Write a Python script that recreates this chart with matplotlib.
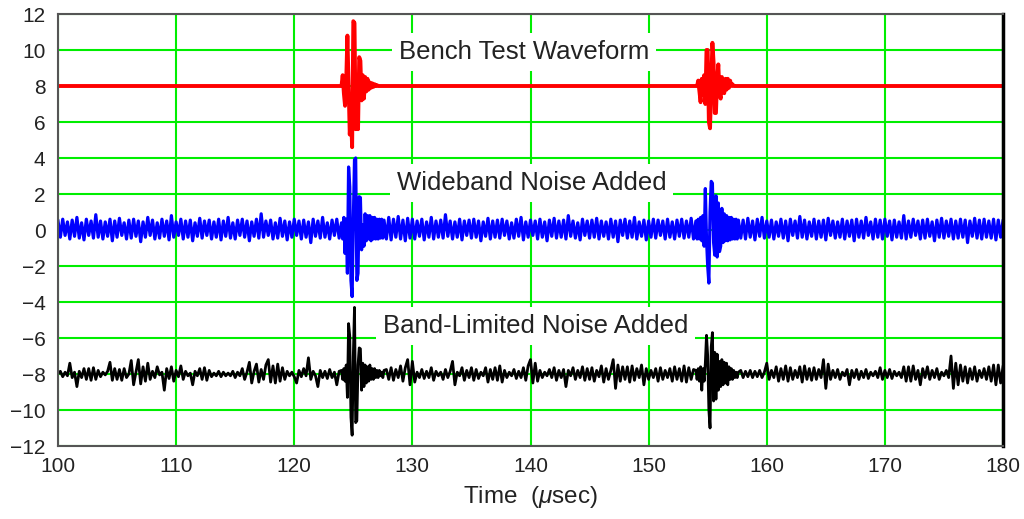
import numpy as np
import matplotlib.pyplot as plt

plt.rcParams['font.family'] = ['Liberation Sans', 'DejaVu Sans']
plt.rcParams['mathtext.fontset'] = 'custom'
plt.rcParams['mathtext.it'] = 'Liberation Sans:italic'

# time axis (usec): noise sampled every 0.2 us, bursts every 0.1 us
T_START, T_STOP = 100.0, 180.0
NOISE_STEP = 0.2
BURST_STEP = 0.1
burst_starts = [124.0, 154.0]

red_level = 8.0

# bench test waveform, two echoes
red_burst1 = [8.0, 8.6, 7.6, 6.9, 8.3, 10.8, 8.0, 5.3, 6.5, 4.6,
              11.6, 11.5, 5.6, 8.2, 5.6, 9.6, 9.4, 7.2, 8.6, 7.3,
              8.5, 7.7, 8.4, 7.8, 8.2, 7.9, 8.15, 7.95, 8.1, 8.0,
              8.05, 8.0, 8.0, 8.0, 8.0, 8.0, 8.0]
red_burst2 = [8.0, 8.0, 8.3, 7.7, 7.1, 8.4, 7.5, 8.6, 7.0, 10.0,
              10.0, 6.0, 5.65, 8.2, 10.4, 9.3, 6.5, 6.5, 8.4, 9.2,
              7.6, 7.3, 8.5, 8.0, 7.6, 8.4, 7.8, 8.4, 7.9, 8.3,
              8.0, 8.1, 8.0, 8.0, 8.0, 8.0, 8.0]

# wideband noise added
blue_burst1 = [0.4, -0.5, 0.7, -1.3, 0.6, -2.4, 3.5, 2.4, -2.8, -3.7,
               0.5, 3.9, 4.0, -2.8, -2.4, 1.85, 1.8, -1.1, 0.3, -0.9,
               0.9, -0.6, 0.8, -0.5, 0.8, -0.6, 0.7, -0.5, 0.7, -0.5,
               0.6, -0.5, 0.6, -0.45, 0.6, -0.45, 0.55]
blue_burst2 = [0.5, -0.5, 0.6, -0.5, 0.7, -0.6, 0.8, -0.9, 2.3, -0.5,
               -2.0, -2.95, 1.0, 2.7, 2.6, -0.7, -1.4, 1.9, -1.5, 1.5,
               -1.2, -0.9, 1.2, -0.7, 0.9, -0.6, 0.8, -0.6, 0.7, -0.55,
               0.7, -0.5, 0.6, -0.5, 0.6, -0.5, 0.55]
blue_noise = [
    0.5, -0.4, 0.6, -0.3, 0.45, -0.5, 0.55, -0.35, 0.7, -0.45,
    0.4, -0.55, 0.6, -0.3, 0.5, -0.45, 0.85, -0.4, 0.5, -0.5,
    0.45, -0.35, 0.6, -0.6, 0.5, -0.4, 0.65, -0.3, 0.4, -0.5,
    0.55, -0.45, 0.6, -0.35, 0.5, -0.65, 0.45, -0.4, 0.7, -0.3,
    0.55, -0.5, 0.4, -0.45, 0.6, -0.35, 0.5, -0.55, 0.8, -0.4,
    0.45, -0.3, 0.6, -0.5, 0.5, -0.4, 0.55, -0.6, 0.4, -0.35,
    0.65, -0.45, 0.5, -0.3, 0.55, -0.5, 0.45, -0.4, 0.6, -0.55,
    0.5, -0.35, 0.7, -0.45, 0.4, -0.5, 0.55, -0.3, 0.6, -0.4,
    0.5, -0.6, 0.45, -0.35, 0.6, -0.45, 0.9, -0.4, 0.5, -0.3,
    0.55, -0.5, 0.4, -0.45, 0.65, -0.35, 0.5, -0.55, 0.45, -0.4,
    0.6, -0.3, 0.5, -0.5, 0.55, -0.4, 0.45, -0.7, 0.6, -0.35,
    0.5, -0.45, 0.7, -0.4, 0.4, -0.5, 0.55, -0.3, 0.6, -0.45,
    0.5, -0.4, 0.6, -0.5, 0.5, -0.4, 0.6, -0.5, 0.5, -0.4,
    0.6, -0.5, 0.5, -0.4, 0.6, -0.5, 0.5, -0.4, 0.6, -0.5,
    0.7, -0.55, 0.6, -0.4, 0.75, -0.5, 0.55, -0.6, 0.65, -0.45,
    0.6, -0.5, 0.5, -0.35, 0.6, -0.55, 0.45, -0.4, 0.7, -0.5,
    0.5, -0.4, 0.55, -0.45, 0.85, -0.35, 0.5, -0.5, 0.45, -0.4,
    0.6, -0.55, 0.5, -0.3, 0.55, -0.45, 0.6, -0.4, 0.5, -0.6,
    0.45, -0.35, 0.65, -0.5, 0.5, -0.4, 0.55, -0.45, 0.6, -0.3,
    0.5, -0.5, 0.4, -0.45, 0.6, -0.35, 0.7, -0.55, 0.45, -0.4,
    0.55, -0.3, 0.5, -0.5, 0.6, -0.4, 0.45, -0.6, 0.55, -0.35,
    0.65, -0.45, 0.5, -0.4, 0.55, -0.5, 0.8, -0.35, 0.5, -0.45,
    0.4, -0.55, 0.6, -0.3, 0.5, -0.45, 0.55, -0.4, 0.65, -0.5,
    0.5, -0.35, 0.45, -0.5, 0.6, -0.4, 0.5, -0.65, 0.55, -0.3,
    0.6, -0.45, 0.5, -0.4, 0.7, -0.5, 0.45, -0.35, 0.55, -0.55,
    0.5, -0.4, 0.6, -0.45, 0.55, -0.3, 0.5, -0.5, 0.6, -0.4,
    0.45, -0.5, 0.55, -0.35, 0.6, -0.45, 0.5, -0.4, 0.65, -0.5,
    0.5, -0.4, 0.6, -0.5, 0.5, -0.4, 0.6, -0.5, 0.5, -0.4,
    0.6, -0.5, 0.5, -0.4, 0.6, -0.5, 0.5, -0.4, 0.6, -0.45,
    0.55, -0.5, 0.65, -0.4, 0.5, -0.55, 0.6, -0.35, 0.7, -0.45,
    0.5, -0.4, 0.55, -0.5, 0.45, -0.35, 0.6, -0.45, 0.5, -0.6,
    0.6, -0.3, 0.5, -0.45, 0.75, -0.4, 0.55, -0.5, 0.45, -0.35,
    0.6, -0.5, 0.5, -0.4, 0.55, -0.55, 0.65, -0.3, 0.5, -0.45,
    0.45, -0.4, 0.6, -0.5, 0.5, -0.35, 0.55, -0.6, 0.6, -0.4,
    0.5, -0.45, 0.7, -0.3, 0.45, -0.5, 0.6, -0.4, 0.55, -0.5,
    0.6, -0.35, 0.5, -0.55, 0.55, -0.4, 0.45, -0.45, 0.8, -0.5,
    0.5, -0.4, 0.6, -0.3, 0.5, -0.5, 0.55, -0.45, 0.6, -0.35,
    0.45, -0.6, 0.55, -0.4, 0.65, -0.45, 0.5, -0.35, 0.6, -0.5,
    0.5, -0.45, 0.6, -0.4, 0.55, -0.7, 0.5, -0.35, 0.65, -0.45,
    0.55, -0.5, 0.6, -0.4, 0.5, -0.45, 0.6, -0.55, 0.55, -0.4,
    0.5]

# band-limited noise added
black_burst1 = [-7.8, -8.3, -7.7, -8.4, -7.5, -9.3, -5.2, -5.9, -10.4, -11.4,
                -7.0, -4.3, -10.7, -10.6, -7.5, -6.55, -6.6, -8.9, -7.4, -8.7,
                -7.5, -8.5, -7.6, -8.4, -7.5, -8.3, -7.7, -8.3, -7.7, -8.2,
                -7.8, -8.2, -7.8, -8.1, -7.9, -8.2, -7.8]
black_burst2 = [-7.8, -8.3, -7.7, -8.4, -7.6, -8.9, -7.7, -8.4, -7.4, -5.85,
                -7.0, -10.0, -11.0, -6.5, -5.7, -9.5, -6.8, -9.4, -6.9, -8.9,
                -7.3, -8.7, -7.2, -8.6, -7.35, -8.5, -7.4, -8.6, -7.6, -8.3,
                -7.7, -8.3, -7.8, -8.2, -7.9, -8.2, -7.9]
black_noise = [
    -8.0, -7.85, -8.15, -7.9, -8.1, -7.4, -8.2, -7.9, -8.7, -7.85,
    -8.2, -7.7, -8.3, -7.7, -8.35, -7.65, -8.3, -7.8, -8.15, -7.9,
    -8.05, -7.85, -7.35, -8.35, -7.7, -8.3, -7.75, -8.35, -7.7, -8.2,
    -8.0, -7.25, -8.6, -7.9, -7.2, -8.55, -7.6, -8.4, -7.4, -8.3,
    -7.85, -8.2, -7.6, -8.05, -7.9, -8.9, -7.7, -8.25, -7.6, -8.4,
    -7.8, -8.15, -7.55, -8.3, -7.85, -8.1, -7.95, -8.6, -7.85, -8.1,
    -7.7, -8.3, -7.65, -8.35, -7.8, -8.15, -7.95, -8.1, -7.85, -8.15,
    -7.9, -8.1, -7.95, -8.1, -7.85, -8.2, -7.9, -8.1, -7.7, -8.3,
    -7.9, -7.35, -8.5, -7.85, -7.45, -8.45, -7.75, -8.3, -7.5, -7.2,
    -8.45, -7.55, -8.5, -7.45, -8.4, -7.65, -8.3, -7.85, -8.1, -7.9,
    -8.15, -8.5, -7.8, -8.15, -7.7, -8.1, -7.1, -8.3, -7.85, -8.1,
    -8.7, -7.8, -8.2, -7.85, -8.25, -7.75, -8.2, -7.9, -8.6, -7.85,
    -8.0, -8.1, -7.9, -8.1, -7.9, -8.1, -7.9, -8.1, -7.9, -8.1,
    -7.9, -8.1, -7.9, -8.1, -7.9, -8.1, -7.9, -8.1, -7.9, -7.75,
    -8.3, -7.65, -8.35, -7.75, -8.2, -7.55, -8.4, -7.65, -7.2, -8.6,
    -7.3, -8.45, -7.9, -8.2, -7.75, -8.25, -7.85, -8.2, -7.65, -8.35,
    -7.85, -8.1, -7.9, -8.3, -7.75, -8.2, -7.85, -7.3, -8.6, -7.9,
    -8.1, -7.65, -8.35, -7.8, -8.2, -7.65, -8.35, -7.75, -8.25, -7.9,
    -8.1, -7.65, -8.45, -7.75, -8.3, -7.65, -8.35, -7.55, -8.45, -7.8,
    -8.2, -7.9, -8.1, -7.75, -8.25, -7.85, -8.2, -7.65, -8.35, -7.55,
    -7.2, -8.5, -7.4, -8.4, -7.8, -8.2, -7.9, -8.1, -7.75, -8.2,
    -7.65, -8.35, -7.8, -8.2, -7.75, -8.7, -7.8, -8.1, -7.65, -8.3,
    -7.8, -8.2, -7.6, -8.35, -7.7, -8.3, -7.65, -8.4, -7.8, -8.15,
    -7.55, -8.45, -7.7, -8.3, -7.8, -7.2, -8.8, -7.5, -8.4, -7.6,
    -8.3, -7.6, -8.45, -7.55, -8.35, -7.7, -8.2, -7.5, -8.6, -7.7,
    -8.3, -7.8, -8.2, -7.7, -8.4, -7.65, -8.3, -7.8, -8.2, -7.7,
    -8.4, -7.6, -8.3, -7.7, -8.4, -7.55, -8.45, -7.65, -8.3, -7.75,
    -8.0, -8.1, -7.9, -8.1, -7.9, -8.1, -7.9, -8.1, -7.9, -8.1,
    -7.9, -8.1, -7.9, -8.1, -7.9, -8.1, -7.9, -8.1, -7.9, -7.8,
    -8.2, -7.85, -8.15, -7.8, -8.2, -7.85, -8.15, -7.8, -8.2, -7.9,
    -7.4, -8.3, -7.8, -8.2, -7.6, -8.4, -7.7, -8.3, -7.55, -8.4,
    -7.65, -8.3, -7.8, -8.2, -7.6, -8.45, -7.55, -8.3, -7.7, -8.35,
    -7.65, -8.3, -7.75, -8.2, -7.2, -8.8, -7.45, -8.3, -7.8, -8.2,
    -7.75, -8.3, -7.9, -8.1, -7.75, -8.6, -7.8, -8.2, -7.75, -8.3,
    -7.85, -8.2, -7.75, -8.25, -7.9, -8.1, -7.85, -8.2, -7.65, -8.3,
    -7.8, -8.2, -7.75, -8.25, -7.85, -8.1, -7.9, -8.2, -7.6, -8.4,
    -7.6, -8.4, -7.55, -8.3, -7.8, -8.6, -7.7, -8.2, -7.6, -8.3,
    -7.8, -8.2, -7.7, -8.3, -7.9, -8.1, -7.8, -8.2, -7.0, -8.8,
    -7.4, -8.6, -7.5, -8.4, -7.6, -8.5, -7.7, -8.3, -7.6, -8.4,
    -7.8, -8.2, -7.7, -8.3, -7.6, -8.4, -7.5, -8.6, -7.5, -8.5,
    -7.6]

labels = ['Bench Test Waveform', 'Wideband Noise Added', 'Band-Limited Noise Added']


def burst_time(start, vals):
    return start + BURST_STEP * np.arange(len(vals))


def assemble(noise, bursts):
    # noise samples outside the echo windows, burst samples inside
    t = T_START + NOISE_STEP * np.arange(len(noise))
    y = np.asarray(noise, dtype=float)
    keep = np.ones(len(t), dtype=bool)
    ts, ys = [], []
    for start, vals in zip(burst_starts, bursts):
        tb = burst_time(start, vals)
        keep &= ~((t >= tb[0] - 1e-6) & (t <= tb[-1] + 1e-6))
        ts.append(tb)
        ys.append(np.asarray(vals, dtype=float))
    t_all = np.concatenate([t[keep]] + ts)
    y_all = np.concatenate([y[keep]] + ys)
    order = np.argsort(t_all)
    return t_all[order], y_all[order]


t_red = np.concatenate([[T_START], burst_time(burst_starts[0], red_burst1),
                        burst_time(burst_starts[1], red_burst2), [T_STOP]])
y_red = np.concatenate([[red_level], red_burst1, red_burst2, [red_level]])
t_blue, y_blue = assemble(blue_noise, [blue_burst1, blue_burst2])
t_black, y_black = assemble(black_noise, [black_burst1, black_burst2])

fig = plt.figure(figsize=(10.24, 5.19), dpi=100)
ax = fig.add_axes([58 / 1024, 1 - 446 / 519, 945 / 1024, 432 / 519])

ax.plot(t_black, y_black, color='black', lw=2.0, zorder=2)
ax.plot(t_blue, y_blue, color='#0000ff', lw=2.3, zorder=2)
ax.plot(t_red, y_red, color='#ff0000', lw=2.8, zorder=2)

ax.set_xlim(T_START, T_STOP)
ax.set_ylim(-12, 12)
ax.set_xticks(np.arange(100, 181, 10))
ax.set_yticks(np.arange(-12, 13, 2))
ax.grid(True, color='#00ee00', lw=1.5)
ax.set_axisbelow(True)
ax.tick_params(length=0, labelsize=15, labelcolor='#222222')
ax.tick_params(axis='y', pad=9)
ax.tick_params(axis='x', pad=8)
ax.set_xlabel('Time  ($\\mu$sec)', fontsize=17.5, color='#222222', labelpad=6)

for side in ['left', 'bottom', 'top']:
    ax.spines[side].set_color('#555555')
    ax.spines[side].set_linewidth(1.5)
ax.spines['right'].set_color('black')
ax.spines['right'].set_linewidth(2.5)

box = dict(facecolor='white', edgecolor='none', pad=5)
ax.text(139.45, 9.9, labels[0], ha='center', va='center', fontsize=18.5,
        color='#222222', bbox=box, zorder=3)
ax.text(140.1, 2.6, labels[1], ha='center', va='center', fontsize=18.5,
        color='#222222', bbox=box, zorder=3)
ax.text(140.4, -5.33, labels[2], ha='center', va='center', fontsize=18.5,
        color='#222222', bbox=box, zorder=3)

fig.savefig('out.png', dpi=100)
